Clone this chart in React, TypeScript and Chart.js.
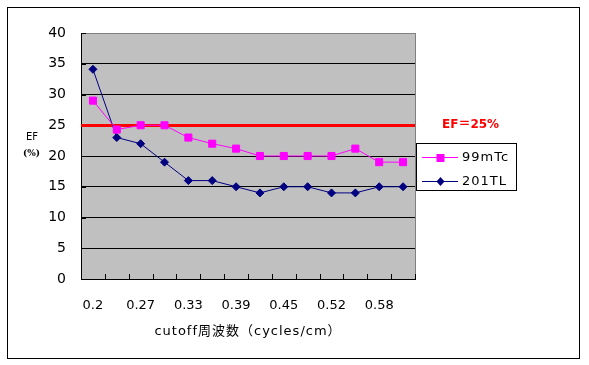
import React, { useEffect, useRef } from 'react';
import { Chart, registerables } from 'chart.js';

Chart.register(...registerables);

const categories = ['0.2', '0.23', '0.27', '0.30', '0.33', '0.36', '0.39', '0.42', '0.45', '0.48', '0.52', '0.55', '0.58', '0.61'];
const seriesTc = [29, 24.3, 25, 25, 23, 22, 21.2, 20, 20, 20, 20, 21.2, 19, 19];
const seriesTl = [34.1, 23, 22, 19, 16, 16, 15, 14, 15, 15, 14, 14, 15, 15];
const seriesNames = ['99mTc', '201TL'];
const threshold = 25;
const thresholdLabel = 'EF＝25%';
const yMin = 0;
const yMax = 40;
const yStep = 5;
const xTitle = 'cutoff周波数（cycles/cm）';
const yTitle = 'EF';
const yUnit = '(%)';

const FONT = "'DejaVu Sans', 'Noto Sans CJK JP', sans-serif";

export default function App() {
  const ref = useRef<HTMLCanvasElement>(null);

  useEffect(() => {
    document.body.style.margin = '0';
    const canvas = ref.current as HTMLCanvasElement;

    const extras = {
      id: 'extras',
      beforeDraw(chart: any) {
        const { ctx, chartArea } = chart;
        ctx.save();
        ctx.fillStyle = '#c0c0c0';
        ctx.fillRect(chartArea.left, chartArea.top, chartArea.right - chartArea.left, chartArea.bottom - chartArea.top);
        ctx.restore();
      },
      beforeDatasetsDraw(chart: any) {
        const { ctx, chartArea, scales } = chart;
        const x = scales.x;
        const y = scales.y;
        ctx.save();
        ctx.strokeStyle = '#808080';
        ctx.lineWidth = 1;
        ctx.beginPath();
        ctx.moveTo(Math.round(chartArea.right) + 0.5, chartArea.top);
        ctx.lineTo(Math.round(chartArea.right) + 0.5, chartArea.bottom);
        ctx.stroke();
        ctx.strokeStyle = '#000000';
        ctx.beginPath();
        for (let i = 0; i <= categories.length; i++) {
          const px = Math.round(x.getPixelForValue(i - 0.5)) + 0.5;
          ctx.moveTo(px, chartArea.bottom - 5);
          ctx.lineTo(px, chartArea.bottom);
        }
        for (let v = yMin; v <= yMax; v += yStep) {
          const py = Math.round(y.getPixelForValue(v)) + 0.5;
          ctx.moveTo(chartArea.left, py);
          ctx.lineTo(chartArea.left + 5, py);
        }
        ctx.stroke();
        const ty = y.getPixelForValue(threshold);
        ctx.fillStyle = '#ff0000';
        ctx.fillRect(chartArea.left, Math.round(ty) - 1, chartArea.right - chartArea.left, 3);
        ctx.restore();
      },
      afterDraw(chart: any) {
        const { ctx, chartArea, scales } = chart;
        const y = scales.y;
        ctx.save();
        ctx.strokeStyle = '#000000';
        ctx.lineWidth = 1;
        ctx.strokeRect(7.5, 7.5, 572, 351);

        ctx.fillStyle = '#ff0000';
        ctx.font = `bold 12px ${FONT}`;
        ctx.textAlign = 'left';
        ctx.textBaseline = 'middle';
        ctx.fillText(thresholdLabel, 442, Math.round(y.getPixelForValue(threshold)));

        ctx.fillStyle = '#000000';
        ctx.font = `10px ${FONT}`;
        ctx.fillText(yTitle, 26, 137);
        ctx.font = `bold 9px 'DejaVu Serif', serif`;
        ctx.fillText(yUnit, 23, 154);

        ctx.font = `13px ${FONT}`;
        (ctx as any).letterSpacing = '1px';
        ctx.textAlign = 'center';
        ctx.fillText(xTitle, (chartArea.left + chartArea.right) / 2, 332);

        ctx.strokeStyle = '#000000';
        ctx.strokeRect(416.5, 143.5, 100, 47);
        const ds = chart.data.datasets;
        const rows = [157, 181];
        ds.forEach((d: any, i: number) => {
          const ry = rows[i];
          ctx.strokeStyle = d.borderColor;
          ctx.lineWidth = 1;
          ctx.beginPath();
          ctx.moveTo(422, ry + 0.5);
          ctx.lineTo(458, ry + 0.5);
          ctx.stroke();
          ctx.fillStyle = d.pointBackgroundColor;
          const cx = 440;
          if (d.pointStyle === 'rect') {
            ctx.fillRect(cx - 3.5, ry - 3, 8, 8);
          } else {
            ctx.beginPath();
            ctx.moveTo(cx + 0.5, ry - 4);
            ctx.lineTo(cx + 4.5, ry + 0.5);
            ctx.lineTo(cx + 0.5, ry + 5);
            ctx.lineTo(cx - 3.5, ry + 0.5);
            ctx.closePath();
            ctx.fill();
          }
          ctx.fillStyle = '#000000';
          ctx.font = `13px ${FONT}`;
          ctx.textAlign = 'left';
          ctx.textBaseline = 'middle';
          ctx.fillText(d.label, 462, ry + 1);
        });
        ctx.restore();
      },
    };

    const chart = new Chart(canvas, {
      type: 'line',
      data: {
        labels: categories,
        datasets: [
          {
            label: seriesNames[0],
            data: seriesTc,
            borderColor: '#ff00ff',
            backgroundColor: '#ff00ff',
            pointBackgroundColor: '#ff00ff',
            pointBorderColor: '#ff00ff',
            pointStyle: 'rect',
            pointRadius: 5,
            pointBorderWidth: 1,
            borderWidth: 1,
            tension: 0,
          },
          {
            label: seriesNames[1],
            data: seriesTl,
            borderColor: '#000080',
            backgroundColor: '#000080',
            pointBackgroundColor: '#000080',
            pointBorderColor: '#000080',
            pointStyle: 'rectRot',
            pointRadius: 4,
            pointBorderWidth: 1,
            borderWidth: 1,
            tension: 0,
          },
        ],
      },
      options: {
        responsive: false,
        animation: false,
        devicePixelRatio: 1,
        layout: { padding: { top: 33, right: 174, bottom: 0, left: 0 } },
        plugins: {
          legend: { display: false },
          tooltip: { enabled: false },
          title: { display: false },
        },
        scales: {
          x: {
            type: 'category',
            offset: true,
            grid: { display: false, drawOnChartArea: false, drawTicks: false },
            border: { display: true, color: '#000000', width: 1 },
            ticks: {
              autoSkip: false,
              maxRotation: 0,
              minRotation: 0,
              padding: 19,
              color: '#000000',
              font: { family: FONT, size: 13 },
              callback: (_v: any, i: number) => (i % 2 === 0 ? categories[i] : ''),
            },
            afterFit: (scale: any) => {
              scale.height = 86;
            },
          },
          y: {
            min: yMin,
            max: yMax,
            grid: {
              drawTicks: false,
              color: (c: any) => (c.tick && c.tick.value === yMax ? '#808080' : '#000000'),
              lineWidth: 1,
            },
            border: { display: true, color: '#000000', width: 1 },
            ticks: {
              stepSize: yStep,
              padding: 15,
              color: '#000000',
              font: { family: FONT, size: 14 },
            },
            afterFit: (scale: any) => {
              scale.width = 81;
            },
          },
        },
      },
      plugins: [extras],
    } as any);

    return () => chart.destroy();
  }, []);

  return <canvas ref={ref} width={589} height={365} style={{ display: 'block', width: 589, height: 365 }} />;
}
